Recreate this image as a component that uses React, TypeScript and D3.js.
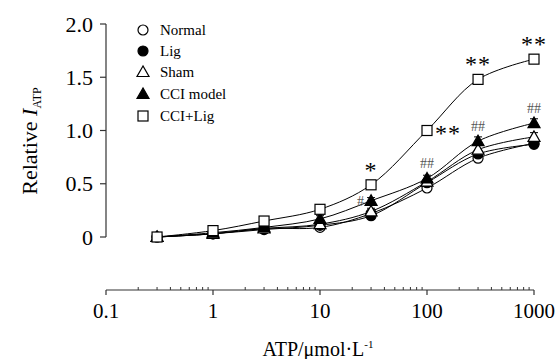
import React from "react";
import * as d3 from "d3";

const doses = [0.3, 1, 3, 10, 30, 100, 300, 1000];

const seriesNames = ["Normal", "Lig", "Sham", "CCI model", "CCI+Lig"];
const normal = [0, 0.03, 0.08, 0.09, 0.22, 0.46, 0.74, 0.88];
const lig = [0, 0.03, 0.07, 0.11, 0.2, 0.51, 0.78, 0.87];
const sham = [0, 0.03, 0.08, 0.12, 0.24, 0.52, 0.82, 0.94];
const cci = [0, 0.04, 0.09, 0.17, 0.34, 0.55, 0.9, 1.07];
const cciLig = [0, 0.06, 0.15, 0.26, 0.49, 1.0, 1.48, 1.67];
const errs = [0.01, 0.02, 0.02, 0.03, 0.03, 0.03, 0.04, 0.04];

const yTicks = [0, 0.5, 1.0, 1.5, 2.0];
const yTickLabels = ["0", "0.5", "1.0", "1.5", "2.0"];
const xTicks = [0.1, 1, 10, 100, 1000];
const xTickLabels = ["0.1", "1", "10", "100", "1000"];

// significance marks: CCI+Lig vs CCI model (*), CCI model vs Sham (#)
const starDoses = [30, 100, 300, 1000];
const starTexts = ["*", "**", "**", "**"];
const hashDoses = [30, 100, 300, 1000];
const hashTexts = ["#", "##", "##", "##"];

type Shape = "circleOpen" | "circleFilled" | "triOpen" | "triFilled" | "square";
const shapes: Shape[] = ["circleOpen", "circleFilled", "triOpen", "triFilled", "square"];
const allValues = [normal, lig, sham, cci, cciLig];

const FONT = "'Liberation Serif', 'Times New Roman', serif";

const x = d3.scaleLog().domain([0.1, 1000]).range([106, 534]);
const y = d3.scaleLinear().domain([0, 2]).range([237, 24]);

const Marker = ({ shape, cx, cy }: { shape: Shape; cx: number; cy: number }) => {
  const sw = 1.2;
  if (shape === "circleOpen" || shape === "circleFilled") {
    return (
      <circle cx={cx} cy={cy} r={5} fill={shape === "circleFilled" ? "#000" : "#fff"} stroke="#000" strokeWidth={sw} />
    );
  }
  if (shape === "triOpen" || shape === "triFilled") {
    const s = 6;
    const pts = `${cx},${cy - s} ${cx - s},${cy + s * 0.75} ${cx + s},${cy + s * 0.75}`;
    return <polygon points={pts} fill={shape === "triFilled" ? "#000" : "#fff"} stroke="#000" strokeWidth={sw} />;
  }
  return <rect x={cx - 5} y={cy - 5} width={10} height={10} fill="#fff" stroke="#000" strokeWidth={sw} />;
};

const App = () => {
  const line = d3
    .line<number>()
    .x((_, i) => x(doses[i]))
    .y((d) => y(d))
    .curve(d3.curveCatmullRom.alpha(0.5));

  const minorTicks: number[] = [];
  for (let p = -1; p < 3; p++) {
    for (let k = 2; k <= 9; k++) minorTicks.push(k * Math.pow(10, p));
  }

  const legendY = [30, 51, 72, 94, 116];

  return (
    <svg
      width={560}
      height={359}
      style={{ position: "absolute", left: 0, top: 0, background: "#fff" }}
      fontFamily={FONT}
    >
      {/* y axis */}
      <line x1={106} x2={106} y1={y(2)} y2={y(0)} stroke="#333" strokeWidth={1.2} />
      {yTicks.map((t, i) => (
        <g key={t}>
          <line x1={100} x2={106} y1={y(t)} y2={y(t)} stroke="#333" strokeWidth={1.2} />
          <text x={93} y={y(t)} dy="0.35em" textAnchor="end" fontSize={22}>
            {yTickLabels[i]}
          </text>
        </g>
      ))}
      <text transform="translate(37,141) rotate(-90)" textAnchor="middle" fontSize={22}>
        Relative <tspan fontStyle="italic">I</tspan>
        <tspan fontSize={12} dy={4}>ATP</tspan>
      </text>

      {/* x axis */}
      <line x1={x(0.1)} x2={x(1000)} y1={290} y2={290} stroke="#333" strokeWidth={1.2} />
      {xTicks.map((t, i) => (
        <g key={t}>
          <line x1={x(t)} x2={x(t)} y1={290} y2={295} stroke="#333" strokeWidth={1.2} />
          <text x={x(t)} y={318} textAnchor="middle" fontSize={21}>
            {xTickLabels[i]}
          </text>
        </g>
      ))}
      {minorTicks.map((t) => (
        <line key={t} x1={x(t)} x2={x(t)} y1={287} y2={290} stroke="#333" strokeWidth={1} />
      ))}
      <text x={318} y={356} textAnchor="middle" fontSize={20}>
        ATP/μmol·L<tspan fontSize={11} dy={-8}>-1</tspan>
      </text>

      {/* curves */}
      {allValues.map((vals, si) => (
        <path key={si} d={line(vals) ?? ""} fill="none" stroke="#000" strokeWidth={1} />
      ))}

      {/* error bars and markers */}
      {allValues.map((vals, si) => (
        <g key={si}>
          {vals.map((v, i) => (
            <g key={i}>
              <line x1={x(doses[i])} x2={x(doses[i])} y1={y(v + errs[i])} y2={y(v - errs[i])} stroke="#000" />
              <line x1={x(doses[i]) - 4} x2={x(doses[i]) + 4} y1={y(v + errs[i])} y2={y(v + errs[i])} stroke="#000" />
              <Marker shape={shapes[si]} cx={x(doses[i])} cy={y(v)} />
            </g>
          ))}
        </g>
      ))}

      {/* significance marks */}
      {starDoses.map((d, i) => {
        const v = cciLig[doses.indexOf(d)];
        const right = d === 100;
        return (
          <text
            key={d}
            x={right ? x(d) + 8 : x(d)}
            y={right ? y(v) + 10 : y(v) - 7}
            textAnchor={right ? "start" : "middle"}
            fontSize={24}
            letterSpacing={1}
          >
            {starTexts[i]}
          </text>
        );
      })}
      {hashDoses.map((d, i) => {
        const v = cci[doses.indexOf(d)];
        const left = d === 30;
        return (
          <text
            key={d}
            x={left ? x(d) - 7 : x(d)}
            y={left ? y(v) + 5 : y(v) - 10}
            textAnchor={left ? "end" : "middle"}
            fontSize={14}
            fill="#555"
          >
            {hashTexts[i]}
          </text>
        );
      })}

      {/* legend */}
      {seriesNames.map((name, i) => (
        <g key={name}>
          <Marker shape={shapes[i]} cx={143} cy={legendY[i]} />
          <text x={160} y={legendY[i]} dy="0.35em" fontSize={15}>
            {name}
          </text>
        </g>
      ))}
    </svg>
  );
};

export default App;
